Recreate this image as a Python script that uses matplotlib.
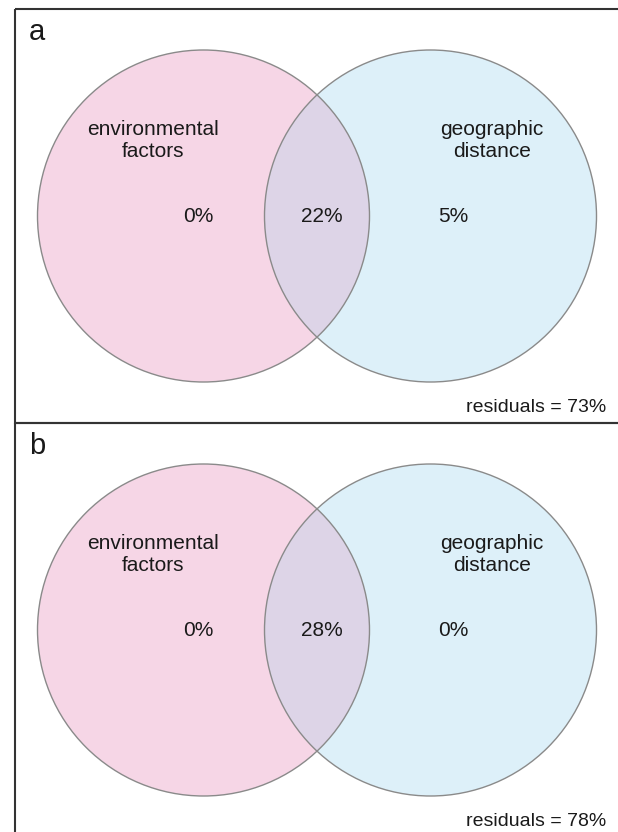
import matplotlib.pyplot as plt
from matplotlib.patches import Circle, Rectangle

plt.rcParams['font.family'] = ['Liberation Sans', 'DejaVu Sans']

# variance partitioning, one row per panel
panel_tags = ['a', 'b']
env_only = [0, 0]
shared = [22, 28]
geo_only = [5, 0]
residuals = [73, 78]
set_names = ['environmental\nfactors', 'geographic\ndistance']

PINK = '#f6d6e6'
BLUE = '#ddf0f9'
BOTH = '#ddd4e7'
EDGE = '#8a8a8a'
INK = '#1a1a1a'

W, H = 618, 832
fig = plt.figure(figsize=(W / 100, H / 100), dpi=100)
ax = fig.add_axes([0, 0, 1, 1])
ax.set_xlim(0, W)
ax.set_ylim(H, 0)
ax.axis('off')

panel_h = 414
r = 166
cx_env, cx_geo = 203.5, 430.5

for i, tag in enumerate(panel_tags):
    top = 9 + i * panel_h
    cy = top + 207

    ax.add_patch(Rectangle((15, top), 700, panel_h, facecolor='none',
                           edgecolor='#333333', lw=1.5, zorder=5))
    ax.text(29, top + 31, tag, fontsize=21, color=INK, va='baseline', ha='left')

    env = Circle((cx_env, cy), r, facecolor=PINK, edgecolor='none', zorder=1)
    geo = Circle((cx_geo, cy), r, facecolor=BLUE, edgecolor='none', zorder=1)
    ax.add_patch(env)
    ax.add_patch(geo)
    # overlap region: env circle clipped to geo circle
    lens = Circle((cx_env, cy), r, facecolor=BOTH, edgecolor='none', zorder=2)
    ax.add_patch(lens)
    lens.set_clip_path(geo)
    for cx in (cx_env, cx_geo):
        ax.add_patch(Circle((cx, cy), r, facecolor='none', edgecolor=EDGE,
                            lw=1.0, zorder=3))

    ax.text(152.5, cy - 75.5, set_names[0], fontsize=15, color=INK,
            ha='center', va='center', linespacing=1.26, zorder=4)
    ax.text(492, cy - 75.5, set_names[1], fontsize=15, color=INK,
            ha='center', va='center', linespacing=1.26, zorder=4)

    ax.text(198, cy, f'{env_only[i]}%', fontsize=15, color=INK,
            ha='center', va='center', zorder=4)
    ax.text(322, cy, f'{shared[i]}%', fontsize=15, color=INK,
            ha='center', va='center', zorder=4)
    ax.text(453, cy, f'{geo_only[i]}%', fontsize=15, color=INK,
            ha='center', va='center', zorder=4)

    ax.text(606, top + 399, f'residuals = {residuals[i]}%', fontsize=14,
            color=INK, ha='right', va='center', zorder=4)

fig.savefig('out.png', dpi=100)
